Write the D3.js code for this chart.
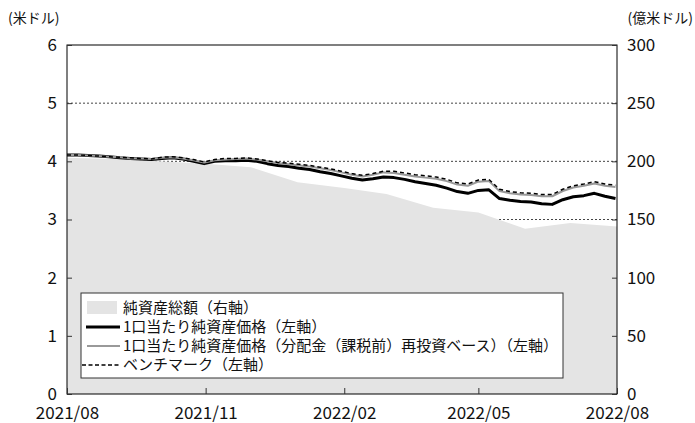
<!DOCTYPE html>
<html>
<head>
<meta charset="utf-8">
<script src="https://cdn.jsdelivr.net/npm/d3@7/dist/d3.min.js"></script>
<style>
  body { margin: 0; background: #fff; }
  svg text { font-family: "Noto Sans CJK JP", "Noto Sans", sans-serif; fill: #111; }
</style>
</head>
<body>
<svg id="chart" width="695" height="423"></svg>
<script>
// 週次の日付
var weeks = [
  "2021-08-01","2021-08-08","2021-08-15","2021-08-22","2021-08-29","2021-09-05","2021-09-12","2021-09-19","2021-09-26",
  "2021-10-03","2021-10-10","2021-10-17","2021-10-24","2021-10-31","2021-11-07","2021-11-14","2021-11-21","2021-11-28",
  "2021-12-05","2021-12-12","2021-12-19","2021-12-26","2022-01-02","2022-01-09","2022-01-16","2022-01-23","2022-01-30",
  "2022-02-06","2022-02-13","2022-02-20","2022-02-27","2022-03-06","2022-03-13","2022-03-20","2022-03-27","2022-04-03",
  "2022-04-10","2022-04-17","2022-04-24","2022-05-01","2022-05-08","2022-05-15","2022-05-22","2022-05-29","2022-06-05",
  "2022-06-12","2022-06-19","2022-06-26","2022-07-03","2022-07-10","2022-07-17","2022-07-24","2022-07-31"
];

// 1口当たり純資産価格（左軸）
var nav = [4.11,4.11,4.10,4.09,4.08,4.06,4.05,4.04,4.03,4.05,4.06,4.04,4.00,3.96,4.00,4.01,4.01,4.02,
  4.00,3.96,3.93,3.91,3.88,3.86,3.82,3.79,3.75,3.71,3.68,3.70,3.73,3.72,3.69,3.65,3.62,3.59,
  3.54,3.48,3.45,3.50,3.51,3.36,3.33,3.31,3.30,3.27,3.26,3.34,3.39,3.41,3.45,3.40,3.36];

// 分配金（課税前）再投資ベース（左軸）
var navReinv = [4.11,4.11,4.10,4.09,4.08,4.07,4.05,4.05,4.04,4.06,4.07,4.05,4.02,3.98,4.02,4.03,4.04,4.05,
  4.03,4.00,3.97,3.95,3.93,3.91,3.88,3.85,3.81,3.77,3.74,3.77,3.81,3.80,3.77,3.74,3.72,3.70,
  3.66,3.60,3.58,3.65,3.66,3.49,3.45,3.43,3.42,3.40,3.40,3.49,3.55,3.58,3.62,3.58,3.56];

// ベンチマーク（左軸）
var bench = [4.11,4.11,4.10,4.09,4.08,4.07,4.06,4.05,4.04,4.07,4.08,4.06,4.03,3.99,4.03,4.05,4.05,4.06,
  4.04,4.01,3.98,3.97,3.95,3.93,3.90,3.87,3.83,3.79,3.76,3.79,3.83,3.83,3.80,3.77,3.75,3.73,
  3.69,3.63,3.61,3.68,3.69,3.52,3.48,3.46,3.45,3.43,3.43,3.52,3.58,3.61,3.65,3.61,3.59];

// 純資産総額（右軸、億米ドル）月次
var months = ["2021-08-01","2021-09-01","2021-10-01","2021-11-01","2021-12-01","2022-01-01","2022-02-01",
  "2022-03-01","2022-04-01","2022-05-01","2022-06-01","2022-07-01","2022-08-01"];
var totalAssets = [203,202,200,198,195,182,177,172,160,156,142,147,144];

var leftTicks = [0,1,2,3,4,5,6];
var rightTicks = [0,50,100,150,200,250,300];
var xTicks = ["2021-08-01","2021-11-01","2022-02-01","2022-05-01","2022-08-01"];

var legendItems = [
  {label: "純資産総額（右軸）", type: "area"},
  {label: "1口当たり純資産価格（左軸）", type: "nav"},
  {label: "1口当たり純資産価格（分配金（課税前）再投資ベース）（左軸）", type: "reinv"},
  {label: "ベンチマーク（左軸）", type: "bench"}
];

var parse = d3.timeParse("%Y-%m-%d");
var fmt = d3.timeFormat("%Y/%m");

var svg = d3.select("#chart"),
    pL = 67, pR = 617, pT = 45, pB = 394;

var x = d3.scaleTime()
    .domain([parse("2021-08-01"), parse("2022-08-01")])
    .range([pL, pR]);
var yL = d3.scaleLinear().domain([0, 6]).range([pB, pT]);
var yR = d3.scaleLinear().domain([0, 300]).range([pB, pT]);

// 補助線
svg.append("g").selectAll("line")
  .data([1,2,3,4,5])
  .enter().append("line")
    .attr("x1", pL).attr("x2", pR)
    .attr("y1", function(d) { return yL(d); })
    .attr("y2", function(d) { return yL(d); })
    .attr("stroke", "#444")
    .attr("stroke-width", 1)
    .attr("stroke-dasharray", "2,2");

// 純資産総額
var areaData = months.map(function(m, i) { return {date: parse(m), v: totalAssets[i]}; });
svg.append("path")
    .datum(areaData)
    .attr("fill", "#e4e4e4")
    .attr("d", d3.area()
      .x(function(d) { return x(d.date); })
      .y0(pB)
      .y1(function(d) { return yR(d.v); }));

function series(values) {
  return weeks.map(function(w, i) { return {date: parse(w), v: values[i]}; });
}
var line = d3.line()
    .x(function(d) { return x(d.date); })
    .y(function(d) { return yL(d.v); });

svg.append("path").datum(series(nav))
    .attr("fill", "none").attr("stroke", "#000").attr("stroke-width", 3)
    .attr("stroke-linejoin", "round").attr("d", line);
svg.append("path").datum(series(navReinv))
    .attr("fill", "none").attr("stroke", "#999").attr("stroke-width", 2)
    .attr("stroke-linejoin", "round").attr("d", line);
svg.append("path").datum(series(bench))
    .attr("fill", "none").attr("stroke", "#000").attr("stroke-width", 1.5)
    .attr("stroke-dasharray", "4,3").attr("d", line);

// 枠
svg.append("rect")
    .attr("x", pL).attr("y", pT)
    .attr("width", pR - pL).attr("height", pB - pT)
    .attr("fill", "none").attr("stroke", "#000").attr("stroke-width", 1);

// 軸
svg.append("g")
    .attr("transform", "translate(" + pL + ",0)")
    .call(d3.axisLeft(yL).tickValues(leftTicks).tickFormat(d3.format("d")).tickSize(-5).tickPadding(10))
    .call(function(g) { g.select(".domain").remove(); });
svg.append("g")
    .attr("transform", "translate(" + pR + ",0)")
    .call(d3.axisRight(yR).tickValues(rightTicks).tickFormat(d3.format("d")).tickSize(-5).tickPadding(10))
    .call(function(g) { g.select(".domain").remove(); });
svg.append("g")
    .attr("class", "xaxis")
    .attr("transform", "translate(0," + pB + ")")
    .call(d3.axisBottom(x).tickValues(xTicks.map(parse)).tickFormat(fmt).tickSize(-6).tickPadding(13))
    .call(function(g) { g.select(".domain").remove(); });

svg.selectAll(".tick line").attr("stroke", "#333");
svg.selectAll(".tick text").attr("font-size", 17).attr("fill", "#111")
    .attr("font-family", "'Liberation Sans', Arial, sans-serif");

svg.append("text").attr("x", 8).attr("y", 23).attr("font-size", 14).text("(米ドル)");
svg.append("text").attr("x", 693).attr("y", 23).attr("font-size", 14)
    .attr("text-anchor", "end").text("(億米ドル)");

// 凡例
var lg = svg.append("g");
lg.append("rect")
    .attr("x", 81).attr("y", 293).attr("width", 482).attr("height", 85)
    .attr("fill", "#fff").attr("stroke", "#333").attr("stroke-width", 1);

var row = lg.selectAll(".row")
  .data(legendItems)
  .enter().append("g")
    .attr("class", "row")
    .attr("transform", function(d, i) { return "translate(0," + (308 + i * 19) + ")"; });

row.each(function(d) {
  var g = d3.select(this);
  if (d.type == "area") {
    g.append("rect").attr("x", 87).attr("y", -7).attr("width", 30).attr("height", 13).attr("fill", "#e4e4e4");
  } else if (d.type == "nav") {
    g.append("line").attr("x1", 86).attr("x2", 120).attr("stroke", "#000").attr("stroke-width", 3);
  } else if (d.type == "reinv") {
    g.append("line").attr("x1", 87).attr("x2", 120).attr("stroke", "#999").attr("stroke-width", 2);
  } else {
    g.append("line").attr("x1", 82).attr("x2", 120).attr("stroke", "#000").attr("stroke-width", 1.5)
      .attr("stroke-dasharray", "4,2.5");
  }
});

row.append("text")
    .attr("x", 123).attr("dy", "0.35em")
    .attr("font-size", 15)
    .text(function(d) { return d.label; });
</script>
</body>
</html>
